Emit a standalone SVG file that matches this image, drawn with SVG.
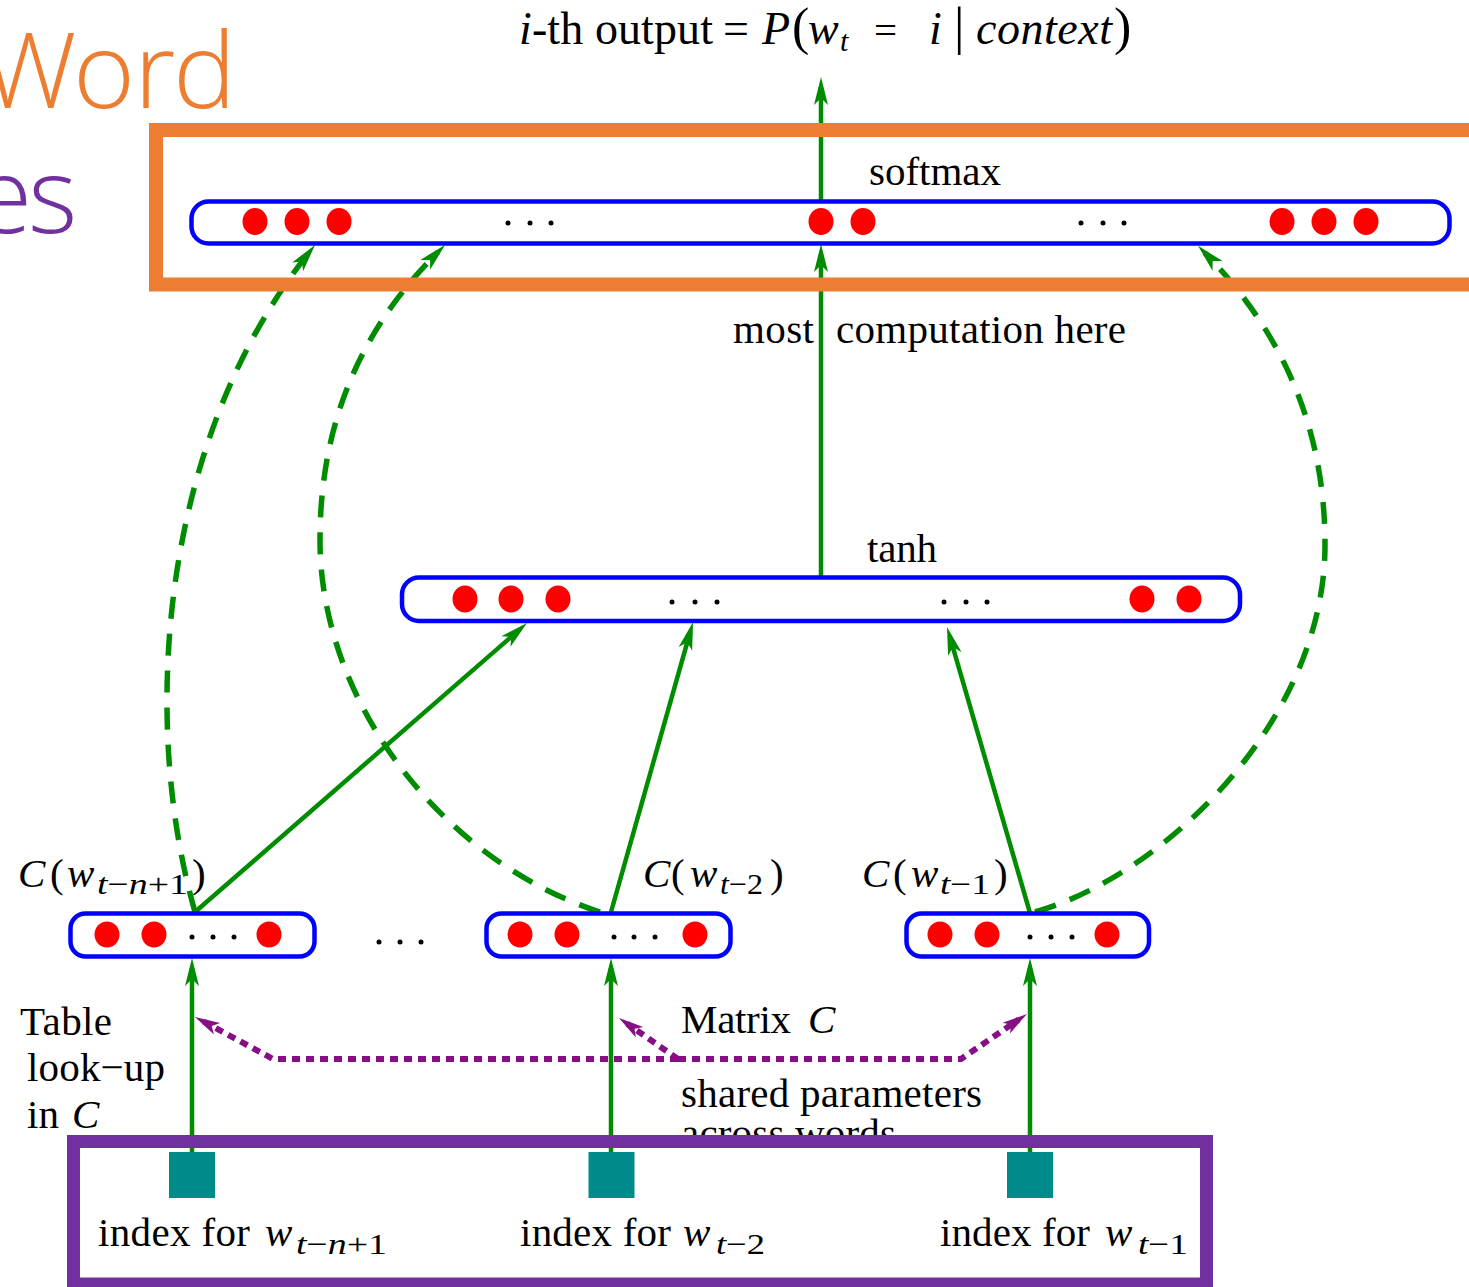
<svg xmlns="http://www.w3.org/2000/svg" width="1469" height="1287" viewBox="0 0 1469 1287">
  <defs>
    <style>
      .t { font-family: "Liberation Serif", "Times New Roman", serif; font-size: 41px; fill: #000; }
      .it { font-style: italic; }
      .sub { font-size: 30px; }
      .ttl { font-size: 46px; }
      .par { font-size: 52px; }
      .slide { font-family: "Open Sans", "Noto Sans", sans-serif; font-weight: 300; font-size: 106px; }
      .layer { fill: #fff; stroke: #0000ff; stroke-width: 4.5; }
      .unit { fill: #ff0000; }
      .dot { fill: #000; }
      .idx { fill: #008b8b; }
      .solid { fill: none; stroke: #008c00; stroke-width: 4.5; marker-end: url(#ag); }
      .dash { fill: none; stroke: #008c00; stroke-width: 5.5; stroke-dasharray: 22 15; marker-end: url(#ag); }
      .share { fill: none; stroke: #860f86; stroke-width: 6; stroke-dasharray: 8 6; }
      .share-end { marker-end: url(#ap); }
    </style>
    <marker id="ag" markerUnits="userSpaceOnUse" viewBox="-20 -8 32 16" refX="0" refY="0" markerWidth="32" markerHeight="16" orient="auto" overflow="visible">
      <path d="M10,0 L-18,-7 L-11,0 L-18,7 Z" fill="#008c00"/>
    </marker>
    <marker id="ap" markerUnits="userSpaceOnUse" viewBox="-20 -8 32 16" refX="0" refY="0" markerWidth="32" markerHeight="16" orient="auto" overflow="visible">
      <path d="M10,0 L-15,-6.5 L-9,0 L-15,6.5 Z" fill="#860f86"/>
    </marker>
  </defs>

  <rect width="1469" height="1287" fill="#fff"/>

  <!-- slide heading fragments -->
  <g id="slide-title">
    <text class="slide" x="-18 73 134 173" y="108" fill="#ed7d31">Word</text>
    <text class="slide" x="-26 28" y="233" fill="#7030a0">es</text>
  </g>

  <!-- connectors -->
  <g id="connectors">
    <!-- table look-up: index -> embedding -->
    <path class="solid" d="M192,1152 L192,968"/>
    <path class="solid" d="M611,1152 L611,968"/>
    <path class="solid" d="M1030,1152 L1030,968"/>
    <!-- embeddings -> tanh -->
    <path class="solid" d="M195,912 L519.5,629.6"/>
    <path class="solid" d="M611,912 L690.3,631.6"/>
    <path class="solid" d="M1030,913 L949.8,636.6"/>
    <!-- tanh -> softmax -> output -->
    <path class="solid" d="M821,578 L821,254"/>
    <path class="solid" d="M821,200 L821,87"/>
    <!-- direct connections embeddings -> softmax -->
    <path class="dash" d="M195,912 C140,720 160,440 308.8,252.8"/>
    <path class="dash" d="M600,912 C440,860 320,700 320,540 C320,420 363,327 437.9,252.1"/>
    <path class="dash" d="M1035,912 C1165,875 1325,720 1325,545 C1325,420 1277,327 1205,253"/>
    <!-- shared matrix C -->
    <path class="share share-end" d="M678,1059 L273,1059 L203.8,1021.7"/>
    <path class="share share-end" d="M678,1059 L961,1059 L1018.7,1019.6"/>
    <path class="share share-end" d="M678,1059 L627.2,1023.7"/>
  </g>

  <!-- output layer -->
  <g id="softmax-layer">
    <rect class="layer" x="191.5" y="201.5" width="1258" height="42" rx="17"/>
    <ellipse class="unit" cx="255" cy="221.5" rx="12.5" ry="13.5"/>
    <ellipse class="unit" cx="297" cy="221.5" rx="12.5" ry="13.5"/>
    <ellipse class="unit" cx="339" cy="221.5" rx="12.5" ry="13.5"/>
    <circle class="dot" cx="508" cy="223" r="2.5"/>
    <circle class="dot" cx="530" cy="223" r="2.5"/>
    <circle class="dot" cx="551" cy="223" r="2.5"/>
    <ellipse class="unit" cx="821" cy="221.5" rx="12.5" ry="13.5"/>
    <ellipse class="unit" cx="863" cy="221.5" rx="12.5" ry="13.5"/>
    <circle class="dot" cx="1081" cy="223" r="2.5"/>
    <circle class="dot" cx="1103" cy="223" r="2.5"/>
    <circle class="dot" cx="1124" cy="223" r="2.5"/>
    <ellipse class="unit" cx="1282" cy="221.5" rx="12.5" ry="13.5"/>
    <ellipse class="unit" cx="1324" cy="221.5" rx="12.5" ry="13.5"/>
    <ellipse class="unit" cx="1366" cy="221.5" rx="12.5" ry="13.5"/>
    <text class="t" x="869" y="185" textLength="132">softmax</text>
  </g>

  <!-- hidden layer -->
  <g id="tanh-layer">
    <rect class="layer" x="402" y="577.5" width="838" height="43.5" rx="17"/>
    <ellipse class="unit" cx="465" cy="599" rx="12.5" ry="13.5"/>
    <ellipse class="unit" cx="511" cy="599" rx="12.5" ry="13.5"/>
    <ellipse class="unit" cx="558" cy="599" rx="12.5" ry="13.5"/>
    <circle class="dot" cx="672" cy="602" r="2.5"/>
    <circle class="dot" cx="695" cy="602" r="2.5"/>
    <circle class="dot" cx="717" cy="602" r="2.5"/>
    <circle class="dot" cx="944" cy="602" r="2.5"/>
    <circle class="dot" cx="966" cy="602" r="2.5"/>
    <circle class="dot" cx="987" cy="602" r="2.5"/>
    <ellipse class="unit" cx="1142" cy="599" rx="12.5" ry="13.5"/>
    <ellipse class="unit" cx="1189" cy="599" rx="12.5" ry="13.5"/>
    <text class="t" x="867" y="562" textLength="70">tanh</text>
    <text class="t" x="733" y="343" textLength="81">most</text>
    <text class="t" x="836" y="343" textLength="290">computation here</text>
  </g>

  <!-- output label -->
  <g id="output-label">
    <text class="t ttl" x="519" y="44" textLength="194"><tspan class="it">i</tspan>-th output</text>
    <text class="t ttl" x="723" y="44">=</text>
    <text class="t ttl it" x="762" y="44">P</text>
    <text class="t par" x="792" y="44">(</text>
    <text class="t ttl it" x="808" y="44">w</text>
    <text class="t sub it" x="840" y="51">t</text>
    <text class="t" x="874" y="44" font-size="50">=</text>
    <text class="t ttl it" x="929" y="44">i</text>
    <text class="t par" x="954" y="44">|</text>
    <text class="t ttl it" x="976" y="44" textLength="136">context</text>
    <text class="t par" x="1114" y="44">)</text>
  </g>

  <!-- word feature vectors -->
  <g id="embedding-left">
    <rect class="layer" x="70.5" y="913.5" width="244" height="43" rx="15"/>
    <ellipse class="unit" cx="107" cy="934.5" rx="12.5" ry="13"/>
    <ellipse class="unit" cx="154" cy="934.5" rx="12.5" ry="13"/>
    <circle class="dot" cx="192" cy="937" r="2.5"/>
    <circle class="dot" cx="213" cy="937" r="2.5"/>
    <circle class="dot" cx="234" cy="937" r="2.5"/>
    <ellipse class="unit" cx="269" cy="934.5" rx="12.5" ry="13"/>
    <text class="t it" x="18" y="887">C</text>
    <text class="t" x="50" y="887">(</text>
    <text class="t it" x="67" y="887">w</text>
    <text class="t sub" x="97" y="894" textLength="91" lengthAdjust="spacingAndGlyphs"><tspan class="it">t</tspan>−<tspan class="it">n</tspan>+1</text>
    <text class="t" x="192" y="887">)</text>
  </g>

  <g id="embedding-gap">
    <circle class="dot" cx="379" cy="942" r="2.5"/>
    <circle class="dot" cx="400" cy="942" r="2.5"/>
    <circle class="dot" cx="421" cy="942" r="2.5"/>
  </g>

  <g id="embedding-mid">
    <rect class="layer" x="486.5" y="913.5" width="244" height="43" rx="15"/>
    <ellipse class="unit" cx="520" cy="934.5" rx="12.5" ry="13"/>
    <ellipse class="unit" cx="567" cy="934.5" rx="12.5" ry="13"/>
    <circle class="dot" cx="614" cy="937" r="2.5"/>
    <circle class="dot" cx="634" cy="937" r="2.5"/>
    <circle class="dot" cx="655" cy="937" r="2.5"/>
    <ellipse class="unit" cx="695" cy="934.5" rx="12.5" ry="13"/>
    <text class="t it" x="643" y="887">C</text>
    <text class="t" x="671" y="887">(</text>
    <text class="t it" x="690" y="887">w</text>
    <text class="t sub" x="720" y="894" textLength="43" lengthAdjust="spacingAndGlyphs"><tspan class="it">t</tspan>−2</text>
    <text class="t" x="770" y="887">)</text>
  </g>

  <g id="embedding-right">
    <rect class="layer" x="906.5" y="913.5" width="242.5" height="43" rx="15"/>
    <ellipse class="unit" cx="940" cy="934.5" rx="12.5" ry="13"/>
    <ellipse class="unit" cx="987" cy="934.5" rx="12.5" ry="13"/>
    <circle class="dot" cx="1030" cy="937" r="2.5"/>
    <circle class="dot" cx="1051" cy="937" r="2.5"/>
    <circle class="dot" cx="1072" cy="937" r="2.5"/>
    <ellipse class="unit" cx="1107" cy="934.5" rx="12.5" ry="13"/>
    <text class="t it" x="862" y="887">C</text>
    <text class="t" x="893" y="887">(</text>
    <text class="t it" x="911" y="887">w</text>
    <text class="t sub" x="940" y="894" textLength="50" lengthAdjust="spacingAndGlyphs"><tspan class="it">t</tspan>−1</text>
    <text class="t" x="994" y="887">)</text>
  </g>

  <!-- annotations of the look-up -->
  <g id="lookup-labels">
    <text class="t" x="20" y="1035" textLength="92">Table</text>
    <text class="t" x="27" y="1081" textLength="138">look−up</text>
    <text class="t" x="27" y="1128">in</text>
    <text class="t it" x="72" y="1128">C</text>
    <text class="t" x="681" y="1033" textLength="110">Matrix</text>
    <text class="t it" x="808" y="1033">C</text>
    <text class="t" x="681" y="1107" textLength="301">shared parameters</text>
    <text class="t" x="681" y="1147" textLength="215">across words</text>
  </g>

  <!-- input word indices -->
  <g id="index-left">
    <rect class="idx" x="169" y="1152" width="46" height="46"/>
    <text class="t" x="98" y="1246" textLength="152">index for</text>
    <text class="t it" x="265" y="1246">w</text>
    <text class="t sub" x="296" y="1254" textLength="91" lengthAdjust="spacingAndGlyphs"><tspan class="it">t</tspan>−<tspan class="it">n</tspan>+1</text>
  </g>
  <g id="index-mid">
    <rect class="idx" x="588.5" y="1152" width="46" height="46"/>
    <text class="t" x="520" y="1246" textLength="151">index for</text>
    <text class="t it" x="683" y="1246">w</text>
    <text class="t sub" x="716" y="1254" textLength="49" lengthAdjust="spacingAndGlyphs"><tspan class="it">t</tspan>−2</text>
  </g>
  <g id="index-right">
    <rect class="idx" x="1007" y="1152" width="46" height="46"/>
    <text class="t" x="940" y="1246" textLength="150">index for</text>
    <text class="t it" x="1105" y="1246">w</text>
    <text class="t sub" x="1138" y="1254" textLength="50" lengthAdjust="spacingAndGlyphs"><tspan class="it">t</tspan>−1</text>
  </g>

  <!-- highlight frames -->
  <g id="highlights">
    <rect x="156" y="130" width="1400" height="154.5" fill="none" stroke="#ed7d31" stroke-width="14"/>
    <rect x="73.5" y="1141.5" width="1133" height="142.5" fill="none" stroke="#7030a0" stroke-width="13"/>
  </g>
</svg>
